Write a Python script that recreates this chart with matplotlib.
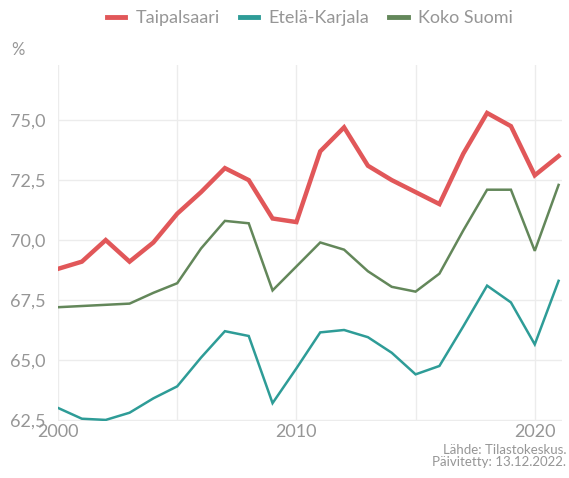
import matplotlib
matplotlib.use('Agg')
import matplotlib.pyplot as plt
from matplotlib.ticker import FuncFormatter, MultipleLocator

plt.rcParams['font.family'] = ['Lato', 'DejaVu Sans']

years = list(range(2000, 2022))

taipalsaari = [68.8, 69.1, 70.0, 69.1, 69.9, 71.1, 72.0, 73.0, 72.5, 70.9, 70.75,
               73.7, 74.7, 73.1, 72.5, 72.0, 71.5, 73.6, 75.3, 74.75, 72.7, 73.5]
etela_karjala = [63.0, 62.55, 62.5, 62.8, 63.4, 63.9, 65.1, 66.2, 66.0, 63.2, 64.65,
                 66.15, 66.25, 65.95, 65.3, 64.4, 64.75, 66.4, 68.1, 67.4, 65.65, 68.3]
koko_suomi = [67.2, 67.25, 67.3, 67.35, 67.8, 68.2, 69.65, 70.8, 70.7, 67.9, 68.9,
              69.9, 69.6, 68.7, 68.05, 67.85, 68.6, 70.4, 72.1, 72.1, 69.55, 72.3]

series_names = ['Taipalsaari', 'Etelä-Karjala', 'Koko Suomi']
colors = ['#e15759', '#2e9c97', '#63875a']
widths = [3.2, 1.8, 1.8]

fig = plt.figure(figsize=(5.69, 4.78), dpi=100)
ax = fig.add_axes([0.102, 0.119, 0.886, 0.745])

for vals, name, c, w in zip([taipalsaari, etela_karjala, koko_suomi], series_names, colors, widths):
    ax.plot(years, vals, color=c, lw=w, label=name, solid_joinstyle='miter')

ax.set_xlim(2000, 2021.15)
ax.set_ylim(62.45, 77.3)
ax.xaxis.set_major_locator(MultipleLocator(10))
ax.xaxis.set_minor_locator(MultipleLocator(5))
ax.yaxis.set_major_locator(MultipleLocator(2.5))
ax.yaxis.set_major_formatter(FuncFormatter(lambda v, p: f'{v:.1f}'.replace('.', ',')))

ax.grid(True, which='both', axis='x', color='#ececec', lw=1)
ax.grid(True, which='major', axis='y', color='#ececec', lw=1)
ax.set_axisbelow(True)
for s in ax.spines.values():
    s.set_visible(False)
ax.tick_params(which='both', length=0, labelsize=13, labelcolor='#969696')
ax.tick_params(axis='y', pad=9)
ax.tick_params(axis='x', pad=2)

fig.text(0.02, 0.895, '%', fontsize=12, color='#969696', ha='left', va='center')

leg = fig.legend(loc='center', bbox_to_anchor=(0.545, 0.962), ncol=3, frameon=False,
                 fontsize=13, handlelength=1.0, handletextpad=0.6, columnspacing=1.1)
for t in leg.get_texts():
    t.set_color('#969696')
for h in leg.get_lines():
    h.set_linewidth(3.5)

fig.text(0.995, 0.046, 'Lähde: Tilastokeskus.\nPäivitetty: 13.12.2022.', fontsize=9.5,
         color='#969696', ha='right', va='center', linespacing=0.95)

fig.savefig('out.png', dpi=100, facecolor='white')
